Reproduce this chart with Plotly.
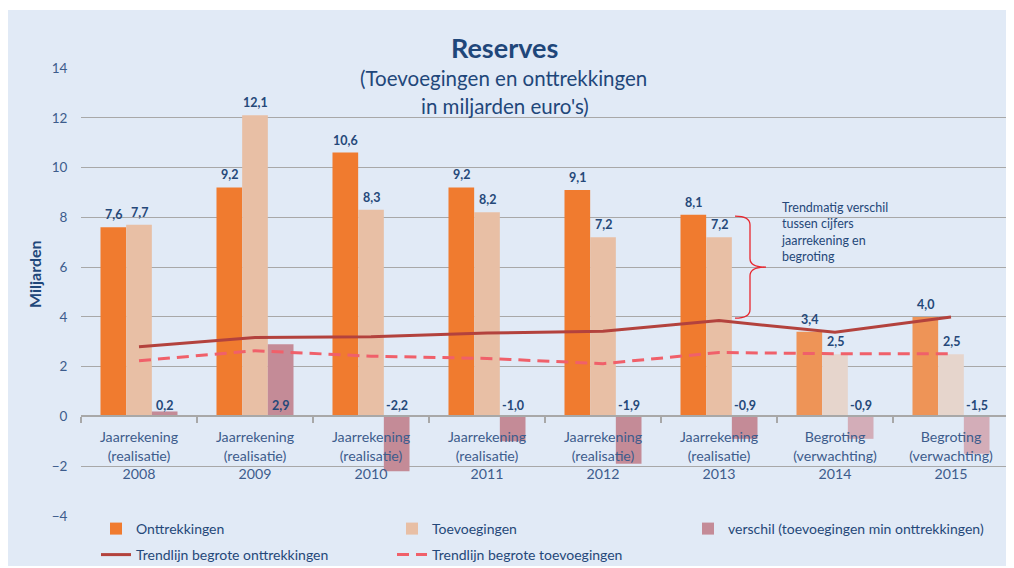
import plotly.graph_objects as go

# ---------------- data ----------------
years = ["2008", "2009", "2010", "2011", "2012", "2013", "2014", "2015"]
kinds = ["Jaarrekening"] * 6 + ["Begroting"] * 2
subkinds = ["(realisatie)"] * 6 + ["(verwachting)"] * 2
onttrekkingen = [7.6, 9.2, 10.6, 9.2, 9.1, 8.1, 3.4, 4.0]
toevoegingen = [7.7, 12.1, 8.3, 8.2, 7.2, 7.2, 2.5, 2.5]
verschil = [0.2, 2.9, -2.2, -1.0, -1.9, -0.9, -0.9, -1.5]
trend_onttrekkingen = [2.8, 3.17, 3.2, 3.35, 3.42, 3.85, 3.38, 4.0]
trend_toevoegingen = [2.24, 2.64, 2.42, 2.33, 2.12, 2.57, 2.52, 2.52]
y_ticks = [-4, -2, 0, 2, 4, 6, 8, 10, 12, 14]

categories = [f"{k}<br>{s}<br>{y}" for k, s, y in zip(kinds, subkinds, years)]

# ---------------- styling ----------------
OFF = 8  # page body margin
W, H = 1006, 560
ML, MR, MT, MB = 73, 5, 60, 52
PW, PH = W - ML - MR, H - MT - MB
BG = "#E1EAF6"
TXT = "#254879"
TICK = "#3D5C8C"
TITLE = "#1F477A"
FONT = "Lato"
GRID = "#A8A8A8"

def is_real(k):
    return k == "Jaarrekening"

col_ontt = ["#F07B2F" if is_real(k) else "#EE9457" for k in kinds]
col_toev = ["#E8BFA5" if is_real(k) else "#E6D5CC" for k in kinds]
col_vers = ["#C48B97" if is_real(k) else "#D3ADB8" for k in kinds]

# helpers converting screen pixels to paper / container fractions
def px_x(sx):
    return (sx - OFF - ML) / PW

def px_y(sy):
    return (H - MB - (sy - OFF)) / PH

def cx(sx):
    return (sx - OFF) / W

def cy(sy):
    return 1 - (sy - OFF) / H

BARGAP = 0.336
BW = (1 - BARGAP) / 3

fig = go.Figure()
fig.add_trace(go.Bar(x=categories, y=onttrekkingen, name="Onttrekkingen",
                     marker=dict(color=col_ontt, line=dict(width=0)), legend="legend"))
fig.add_trace(go.Bar(x=categories, y=toevoegingen, name="Toevoegingen",
                     marker=dict(color=col_toev, line=dict(width=0)), legend="legend"))
fig.add_trace(go.Bar(x=categories, y=verschil, name="verschil (toevoegingen min onttrekkingen)",
                     marker=dict(color=col_vers, line=dict(width=0)), legend="legend"))
fig.add_trace(go.Scatter(x=categories, y=trend_onttrekkingen, mode="lines",
                         name="Trendlijn begrote onttrekkingen",
                         line=dict(color="#B3423D", width=3), legend="legend2"))
fig.add_trace(go.Scatter(x=categories, y=trend_toevoegingen, mode="lines",
                         name="Trendlijn begrote toevoegingen",
                         line=dict(color="#F0606A", width=3, dash="12px,7px"), legend="legend2"))

def fmt(v):
    return f"{v:.1f}".replace(".", ",")

annotations = []
for i in range(len(categories)):
    for off, val in ((-BW, onttrekkingen[i]), (0.0, toevoegingen[i])):
        annotations.append(dict(x=i + off, y=val, xref="x", yref="y", text=f"<b>{fmt(val)}</b>",
                                showarrow=False, yanchor="bottom", yshift=3,
                                font=dict(family=FONT, size=12.5, color=TXT)))
    annotations.append(dict(x=i + BW, y=0, xref="x", yref="y", text=f"<b>{fmt(verschil[i])}</b>",
                            showarrow=False, yanchor="bottom", yshift=1,
                            font=dict(family=FONT, size=12.5, color=TXT)))

annotations.append(dict(x=px_x(504), y=px_y(47), xref="paper", yref="paper", text="<b>Reserves</b>",
                        showarrow=False, xanchor="center", yanchor="middle",
                        font=dict(family=FONT, size=27, color=TITLE)))
annotations.append(dict(x=px_x(503), y=px_y(78), xref="paper", yref="paper",
                        text="(Toevoegingen en onttrekkingen",
                        showarrow=False, xanchor="center", yanchor="middle",
                        font=dict(family=FONT, size=20.5, color=TITLE)))
annotations.append(dict(x=px_x(505), y=px_y(106), xref="paper", yref="paper",
                        text="in miljarden euro's)",
                        showarrow=False, xanchor="center", yanchor="middle",
                        font=dict(family=FONT, size=20.5, color=TITLE)))
annotations.append(dict(x=px_x(34), y=px_y(274), xref="paper", yref="paper", text="<b>Miljarden</b>",
                        showarrow=False, textangle=-90, xanchor="center", yanchor="middle",
                        font=dict(family=FONT, size=16, color=TITLE)))
annotations.append(dict(x=px_x(779), y=px_y(232), xref="paper", yref="paper",
                        text="Trendmatig verschil<br>tussen cijfers<br>jaarrekening en<br>begroting",
                        showarrow=False, xanchor="left", yanchor="middle", align="left",
                        font=dict(family=FONT, size=12.5, color=TXT)))

# brace shape (x in paper, y in data)
top = onttrekkingen[5] - 0.05
bot = trend_onttrekkingen[5] + 0.1
mid = (top + bot) / 2
x0, x1, x2 = px_x(735), px_x(750), px_x(766)
d = 0.35
path = (f"M {x0},{top} Q {x1},{top} {x1},{top - d} L {x1},{mid + d} "
        f"Q {x1},{mid} {x2},{mid} Q {x1},{mid} {x1},{mid - d} "
        f"L {x1},{bot + d} Q {x1},{bot} {x0},{bot}")

shapes = [
    dict(type="rect", xref="paper", yref="paper", x0=px_x(8), x1=px_x(1014),
         y0=px_y(566), y1=px_y(10), fillcolor=BG, line=dict(width=0), layer="below"),
    dict(type="path", xref="paper", yref="y", path=path,
         line=dict(color="#E8272F", width=1.3)),
]

legend_common = dict(orientation="h", xref="container", yref="container",
                     xanchor="left", yanchor="middle",
                     entrywidth=251, entrywidthmode="pixels", bgcolor="rgba(0,0,0,0)",
                     font=dict(family=FONT, size=14, color=TXT), traceorder="normal")

fig.update_layout(
    width=W, height=H,
    margin=dict(l=ML, r=MR, t=MT, b=MB, pad=0, autoexpand=False),
    paper_bgcolor="white", plot_bgcolor="rgba(0,0,0,0)",
    barmode="group", bargap=BARGAP, bargroupgap=0,
    font=dict(family=FONT, color=TXT),
    annotations=annotations, shapes=shapes,
    showlegend=True,
    legend=dict(x=cx(96), y=cy(529), **legend_common),
    legend2=dict(x=cx(96), y=cy(555), **legend_common),
    xaxis=dict(type="category", anchor="free", position=4 / 18, tickson="boundaries",
               automargin=False,
               ticks="outside", ticklen=6, tickcolor=GRID, tickwidth=1.5,
               showline=True, linecolor=GRID, linewidth=1.5, showgrid=False,
               ticklabelstandoff=8,
               tickfont=dict(family=FONT, size=14.2, color=TICK), range=[-0.5, 7.5]),
    yaxis=dict(range=[-4, 14], tickvals=y_ticks, showgrid=True, gridcolor=GRID, gridwidth=1.3,
               automargin=False,
               zeroline=False, showline=False, ticks="outside", ticklen=10,
               tickcolor="rgba(0,0,0,0)",
               tickfont=dict(family=FONT, size=13.5, color=TICK)),
)

fig.write_html("out.html")
